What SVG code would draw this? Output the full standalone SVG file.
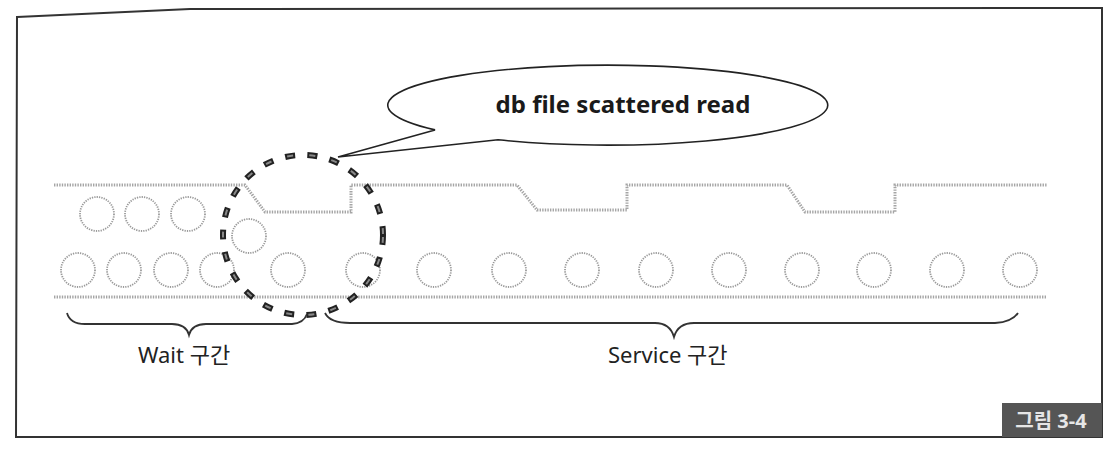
<svg xmlns="http://www.w3.org/2000/svg" width="1114" height="450" viewBox="0 0 1114 450">
<style>
.frame{fill:none;stroke:#333;stroke-width:2}
.track{fill:none;stroke:#a5a5a5;stroke-width:3;stroke-dasharray:1.4 1.2}
.slot{fill:none;stroke:#9a9a9a;stroke-width:1.8;stroke-dasharray:1.3 1.1}
.brace{fill:none;stroke:#333;stroke-width:1.8}
.lbl{font-family:"Noto Sans","Noto Sans CJK KR",sans-serif;font-size:22px;fill:#222}
</style>
<rect width="1114" height="450" fill="#fff"/>
<path class="frame" d="M17,17 L190,9 L1102,8 L1102,437 L16,437 Z"/>
<g id="track">
<path class="track" d="M54,185 L245,185 L265,212 L351,212 L351,185 L517,185 L537,210 L627,210 L627,185 L787,185 L805,212 L895,212 L895,185 L1047,185"/>
<path class="track" d="M54,297 L1047,297"/>
</g>
<g id="wait-slots">
<circle class="slot" cx="97" cy="214" r="17"/>
<circle class="slot" cx="142" cy="214" r="17"/>
<circle class="slot" cx="188" cy="214" r="17"/>
<circle class="slot" cx="249" cy="236" r="17"/>
<circle class="slot" cx="78" cy="270" r="17"/>
<circle class="slot" cx="124" cy="270" r="17"/>
<circle class="slot" cx="171" cy="270" r="17"/>
<circle class="slot" cx="217" cy="270" r="17"/>
</g>
<g id="service-slots">
<circle class="slot" cx="288" cy="270" r="17"/>
<circle class="slot" cx="363" cy="270" r="17"/>
<circle class="slot" cx="434" cy="270" r="17"/>
<circle class="slot" cx="509" cy="270" r="17"/>
<circle class="slot" cx="582" cy="270" r="17"/>
<circle class="slot" cx="656" cy="270" r="17"/>
<circle class="slot" cx="729" cy="270" r="17"/>
<circle class="slot" cx="802" cy="270" r="17"/>
<circle class="slot" cx="874" cy="270" r="17"/>
<circle class="slot" cx="947" cy="270" r="17"/>
<circle class="slot" cx="1020" cy="270" r="17"/>
</g>
<g id="focus">
<circle cx="303" cy="235" r="80" fill="none" stroke="#222" stroke-width="6" stroke-dasharray="10 12.4"/>
<circle cx="303" cy="235" r="80" fill="none" stroke="#888" stroke-width="2" stroke-dasharray="6 16.4" stroke-dashoffset="-2"/>
</g>
<g id="callout">
<path d="M498,139.8 A220 40 0 1 0 435,129.9 L338,157 Z" fill="#fff" stroke="#222" stroke-width="1.6"/>
<text x="623" y="113" text-anchor="middle" font-family="'Noto Sans',sans-serif" font-weight="bold" font-size="24" fill="#1a1a1a">db file scattered read</text>
</g>
<g id="connectors">
<path class="brace" d="M67,313 Q70,324 85,324 L172,324 Q186,324 189,335 Q192,324 206,324 L292,324 Q304,323 307,314"/>
<path class="brace" d="M325,313 Q330,323 350,323 L655,323 Q670,323 674,337 Q678,323 694,323 L995,323 Q1012,322 1018,313"/>
</g>
<g id="wait-label"><text class="lbl" x="138" y="363">Wait 구간</text></g>
<g id="service-label"><text class="lbl" x="608" y="363">Service 구간</text></g>
<g id="figure-tag">
<rect x="1002" y="403" width="100" height="34" fill="#555"/>
<text x="1051" y="428" text-anchor="middle" font-family="'Noto Sans','Noto Sans CJK KR',sans-serif" font-weight="bold" font-size="20" fill="#e6e6e6">그림 3-4</text>
</g>
</svg>
